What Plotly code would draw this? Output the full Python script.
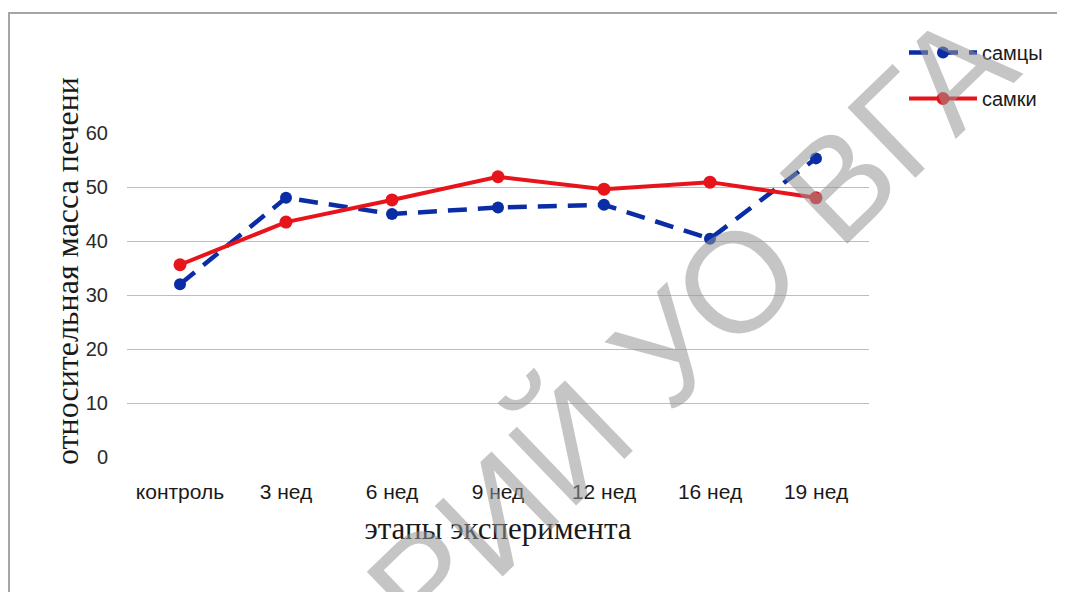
import plotly.graph_objects as go

categories = ["контроль", "3 нед", "6 нед", "9 нед", "12 нед", "16 нед", "19 нед"]
males = [32.0, 48.0, 45.0, 46.2, 46.7, 40.4, 55.3]
females = [35.6, 43.5, 47.6, 51.9, 49.6, 50.9, 48.0]
y_ticks = [0, 10, 20, 30, 40, 50, 60]

BLUE = "#0A2DA6"
RED = "#E8141C"

# the page body has an 8px margin, so the figure is 8px smaller than the window
W, H = 1057, 584
L, T = 119, 125
PW, PH = 742, 324
R, B = W - L - PW, H - T - PH


def px(x):
    return (x - L) / PW


def py(y):
    return (T + PH - y) / PH


fig = go.Figure()
fig.add_trace(go.Scatter(
    x=categories, y=males, name="самцы", mode="lines+markers",
    line=dict(color=BLUE, width=4.5, dash="19px,11px"),
    marker=dict(color=BLUE, size=12), legendgroup="m", cliponaxis=False,
))
fig.add_trace(go.Scatter(
    x=categories, y=females, name="самки", mode="lines+markers",
    line=dict(color=RED, width=4), marker=dict(color=RED, size=13),
    legendgroup="f", cliponaxis=False,
))

fig.update_layout(
    width=W, height=H,
    margin=dict(l=L, r=R, t=T, b=B, autoexpand=False),
    paper_bgcolor="white", plot_bgcolor="white",
    showlegend=True,
    legend=dict(
        x=px(896), y=py(25), xanchor="left", yanchor="top",
        font=dict(family="Liberation Sans", size=20, color="#1a1a1a"),
        traceorder="grouped", tracegroupgap=17, itemwidth=68,
        bgcolor="rgba(0,0,0,0)",
    ),
    xaxis=dict(
        type="category", range=[-0.5, 6.5], showgrid=False, zeroline=False,
        showline=False, ticks="", ticklabelstandoff=20,
        tickfont=dict(family="Liberation Sans", size=21, color="#1a1a1a"),
        title=dict(text="этапы эксперимента", standoff=15,
                   font=dict(family="Liberation Serif", size=31, color="#1a1a1a")),
    ),
    yaxis=dict(
        range=[0, 60], tickvals=y_ticks, showgrid=True, gridcolor="#BDBDBD",
        gridwidth=1.3, zeroline=False, showline=False, ticks="",
        ticklabelstandoff=18,
        tickfont=dict(family="Liberation Sans", size=20, color="#2a2a2a"),
    ),
    shapes=[dict(
        type="rect", xref="paper", yref="paper",
        x0=px(1), x1=px(1100), y0=py(640), y1=py(5),
        line=dict(color="#A6A6A6", width=2), fillcolor="rgba(0,0,0,0)", layer="below",
    )],
    annotations=[
        dict(
            text="относительная масса печени", xref="paper", yref="paper",
            x=px(59), y=py(263), xanchor="center", yanchor="middle",
            showarrow=False, textangle=-90,
            font=dict(family="Liberation Serif", size=32, color="#1a1a1a"),
        ),
        dict(
            text="РИЙ УО ВГА", xref="paper", yref="paper",
            x=px(682), y=py(318), xanchor="center", yanchor="middle",
            showarrow=False, textangle=-44,
            font=dict(family="Liberation Sans", size=142, color="rgba(150,150,150,0.55)"),
        ),
    ],
)

fig.write_html("out.html")
